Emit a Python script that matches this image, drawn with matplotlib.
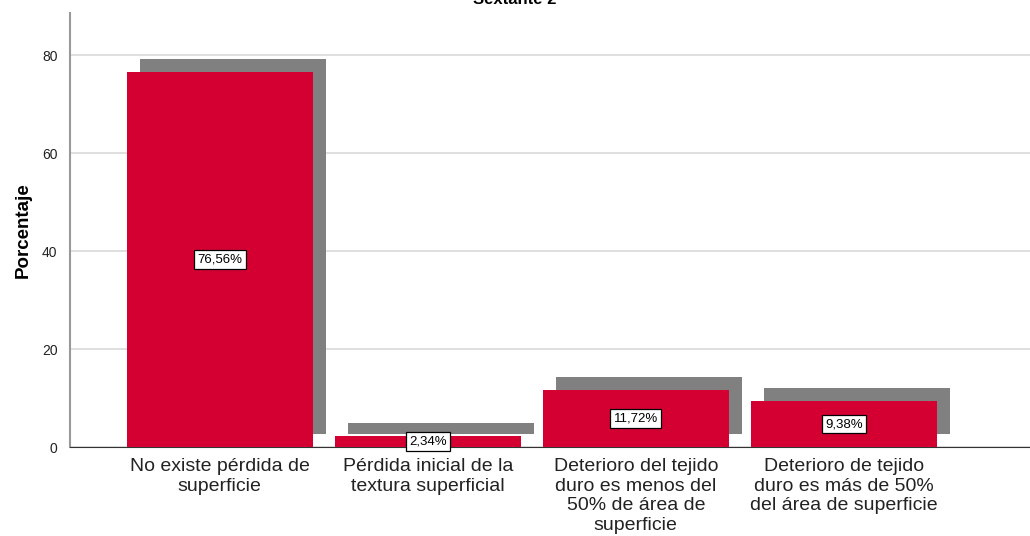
import numpy as np
import matplotlib.pyplot as plt
from matplotlib.transforms import offset_copy

plt.rcParams['font.family'] = ['Liberation Sans', 'DejaVu Sans']

categories = [
    'No existe pérdida de\nsuperficie',
    'Pérdida inicial de la\ntextura superficial',
    'Deterioro del tejido\nduro es menos del\n50% de área de\nsuperficie',
    'Deterioro de tejido\nduro es más de 50%\ndel área de superficie',
]
percentages = [76.56, 2.34, 11.72, 9.38]
value_labels = ['76,56%', '2,34%', '11,72%', '9,38%']
title = 'Sextante 2'

fig = plt.figure(figsize=(10.30, 5.36), dpi=100)
ax = fig.add_axes([0.068, 0.166, 0.932, 0.81])

ind = np.arange(len(categories))
width = 0.894

# shadow: same bars moved up and to the right
shadow_tr = offset_copy(ax.transData, fig=fig, x=13, y=13, units='dots')
ax.bar(ind, percentages, width, color='#808080', transform=shadow_tr, zorder=2)
ax.bar(ind, percentages, width, color='#d50032', zorder=3)

for x, v, lab in zip(ind, percentages, value_labels):
    ax.text(x, v / 2, lab, ha='center', va='center', fontsize=9.5, zorder=5,
            bbox=dict(boxstyle='square,pad=0.25', fc='white', ec='black', lw=0.9))

ax.set_xlim(-0.72, 3.895)
ax.set_ylim(0, 88.6)
ax.set_yticks([0, 20, 40, 60, 80])
ax.yaxis.grid(True, color='#d9d9d9', lw=1.2, zorder=0)
ax.set_axisbelow(True)
ax.set_xticks(ind)
ax.set_xticklabels(categories, fontsize=14, color='#222222', linespacing=1.2)
ax.tick_params(axis='x', length=0, pad=8)
ax.tick_params(axis='y', length=0, labelsize=10, pad=9, labelcolor='#222222')

for s in ['top', 'right']:
    ax.spines[s].set_visible(False)
ax.spines['left'].set_color('#999999')
ax.spines['left'].set_linewidth(1.5)
ax.spines['bottom'].set_color('#333333')

ax.set_ylabel('Porcentaje', fontsize=13.5, fontweight='bold', labelpad=7)
fig.text(0.5, 1.0, title, ha='center', va='center', fontsize=12, fontweight='bold')

plt.savefig('out.png', dpi=100)
